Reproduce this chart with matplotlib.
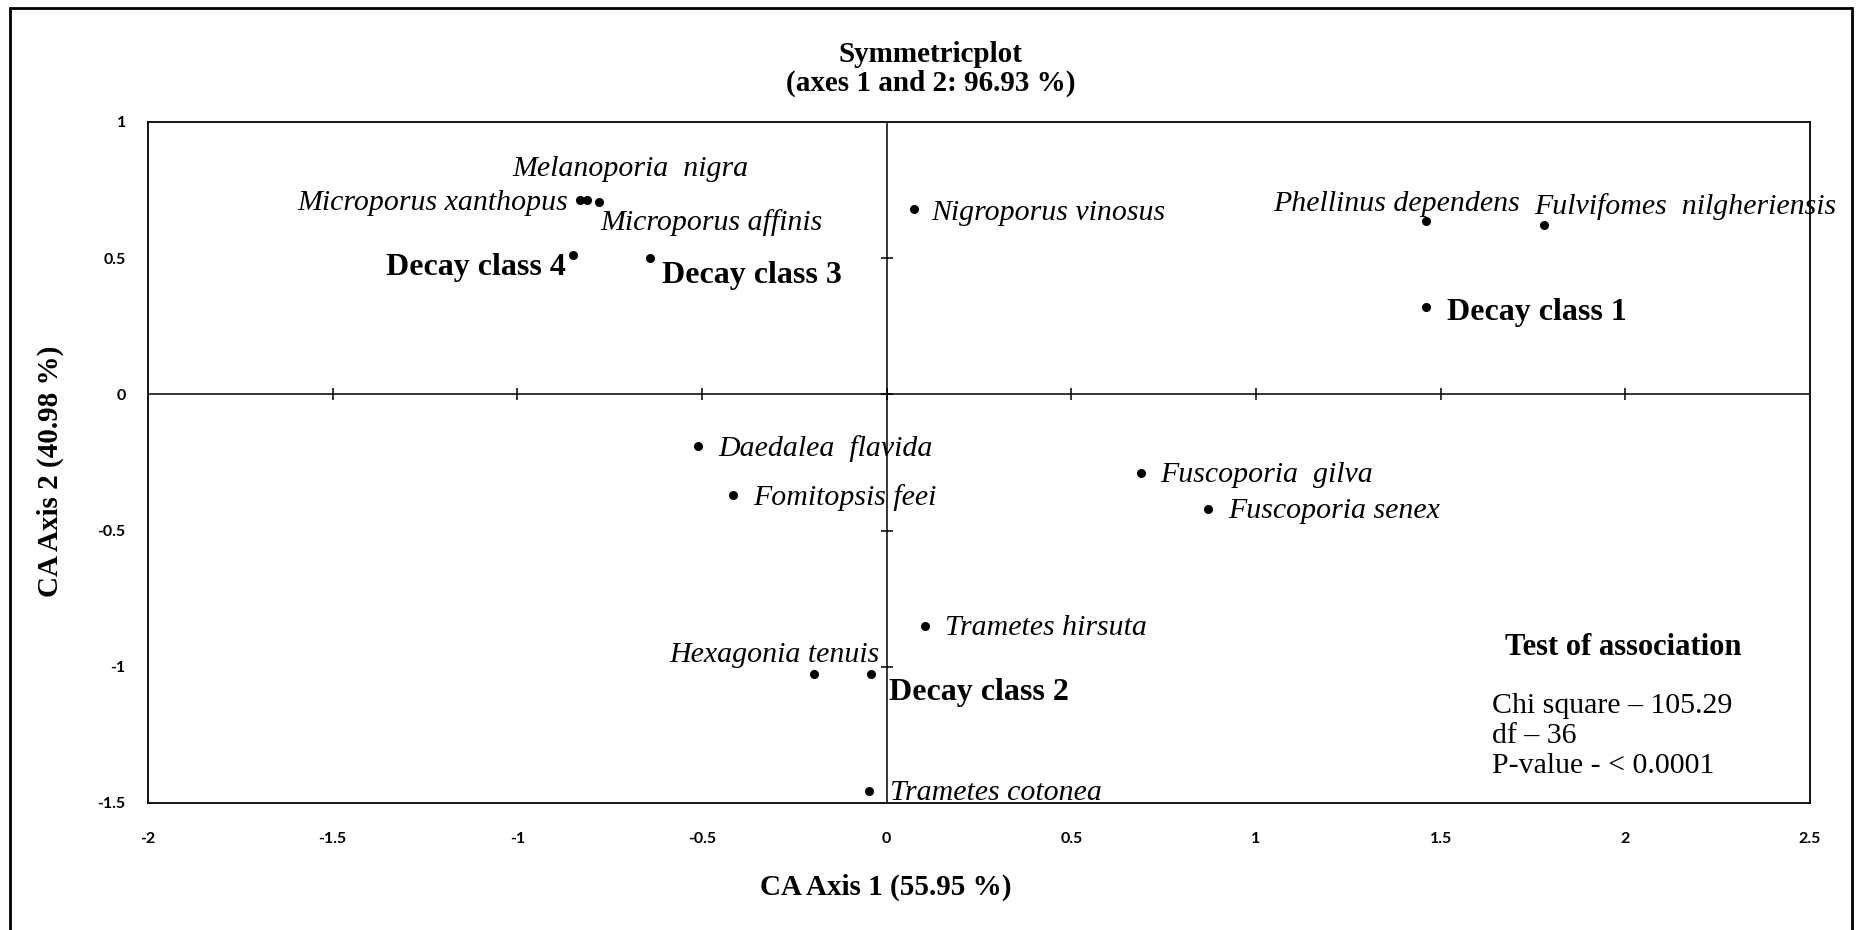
import matplotlib
matplotlib.use('Agg')
import matplotlib.pyplot as plt
import numpy as np
from matplotlib.patches import Rectangle

# CA coordinates of the fungal species
species = ['Melanoporia  nigra', 'Microporus xanthopus', 'Microporus affinis',
           'Nigroporus vinosus', 'Phellinus dependens', 'Fulvifomes  nilgheriensis',
           'Daedalea  flavida', 'Fomitopsis feei', 'Fuscoporia  gilva',
           'Fuscoporia senex', 'Trametes hirsuta', 'Hexagonia tenuis',
           'Trametes cotonea']
species_x = [-0.81, -0.83, -0.78, 0.074, 1.46, 1.78, -0.51, -0.415, 0.69, 0.87,
             0.105, -0.198, -0.049]
species_y = [0.713, 0.713, 0.705, 0.68, 0.635, 0.62, -0.19, -0.37, -0.29, -0.42,
             -0.85, -1.026, -1.456]

# CA coordinates of the decay classes
decay = ['Decay class 1', 'Decay class 2', 'Decay class 3', 'Decay class 4']
decay_x = [1.46, -0.043, -0.64, -0.85]
decay_y = [0.32, -1.026, 0.50, 0.51]

xticks = [-2, -1.5, -1, -0.5, 0, 0.5, 1, 1.5, 2, 2.5]
yticks = [-1.5, -1, -0.5, 0, 0.5, 1]

stats = ['Chi square \u2013 105.29', 'df \u2013 36', 'P-value - < 0.0001']

# label placement: (dx, dy) in pixels, horizontal alignment
species_offsets = [((43, 31), 'center'), ((-12, -3), 'right'), ((2, -20), 'left'),
                   ((17, -4), 'left'), ((-29, 17), 'center'), ((-10, 19), 'left'),
                   ((20, -2), 'left'), ((20, -2), 'left'), ((19, -2), 'left'),
                   ((20, -2), 'left'), ((20, -2), 'left'), ((66, 19), 'right'),
                   ((21, -2), 'left')]
decay_offsets = [((21, -5), 'left'), ((18, -19), 'left'), ((12, -17), 'left'),
                 ((-7, -12), 'right')]

serif = 'Liberation Serif'

fig = plt.figure(figsize=(18.61, 9.30), dpi=100)
ax = fig.add_axes([0.0795, 0.1366, 0.8931, 0.7323])

ax.set_xlim(-2, 2.5)
ax.set_ylim(-1.5, 1)

# zero lines with cross tick marks, Excel style
ax.axhline(0, color='black', lw=1.1, zorder=1)
ax.axvline(0, color='black', lw=1.1, zorder=1)
ax.plot(xticks[1:-1], np.zeros(len(xticks) - 2), ls='none', marker='|',
        color='black', markersize=8, markeredgewidth=1.1)
ax.plot(np.zeros(len(yticks) - 2), yticks[1:-1], ls='none', marker='_',
        color='black', markersize=8, markeredgewidth=1.1)

ax.plot(species_x, species_y, 'o', color='black', markersize=5.5, zorder=3)
ax.plot(decay_x, decay_y, 'o', color='black', markersize=5.5, zorder=3)

for name, x, y, (off, ha) in zip(species, species_x, species_y, species_offsets):
    ax.annotate(name, (x, y), xytext=off, textcoords='offset pixels', ha=ha,
                va='center', fontsize=21.5, fontstyle='italic', family=serif,
                annotation_clip=False)

for name, x, y, (off, ha) in zip(decay, decay_x, decay_y, decay_offsets):
    ax.annotate(name, (x, y), xytext=off, textcoords='offset pixels', ha=ha,
                va='center', fontsize=23, fontweight='bold', family=serif)

ax.text(0.8165, 0.2276, 'Test of association', transform=ax.transAxes,
        fontsize=22, fontweight='bold', family=serif, va='center', ha='left')
for i, line in enumerate(stats):
    ax.text(0.8087, 0.1424 - 0.044 * i, line, transform=ax.transAxes,
            fontsize=21.5, family=serif, va='center', ha='left')

ax.set_xticks(xticks)
ax.set_yticks(yticks)
ax.set_xticklabels([f'{t:g}' for t in xticks])
ax.set_yticklabels([f'{t:g}' for t in yticks])
ax.tick_params(axis='x', length=0, pad=21)
ax.tick_params(axis='y', length=0, pad=16)
for lab in ax.get_xticklabels() + ax.get_yticklabels():
    lab.set_fontfamily('Lato')
    lab.set_fontweight('bold')
    lab.set_fontsize(11.5)

for sp in ax.spines.values():
    sp.set_linewidth(1.3)
    sp.set_color('black')

fig.text(0.5, 0.941, 'Symmetricplot', ha='center', va='center', fontsize=21,
         fontweight='bold', family=serif)
fig.text(0.5, 0.910, '(axes 1 and 2: 96.93 %)', ha='center', va='center',
         fontsize=21, fontweight='bold', family=serif)
fig.text(0.4757, 0.046, 'CA Axis 1 (55.95 %)', ha='center', va='center',
         fontsize=21, fontweight='bold', family=serif)
fig.text(0.027, 0.4935, 'CA Axis 2 (40.98 %)', ha='center', va='center',
         rotation=90, fontsize=21, fontweight='bold', family=serif)

# outer frame around the whole chart
fig.patches.append(Rectangle((10 / 1861, -0.05), 1842 / 1861, 1.05 - 8 / 930,
                             transform=fig.transFigure, fill=False,
                             edgecolor='black', linewidth=2))

fig.savefig('out.png', dpi=100)
